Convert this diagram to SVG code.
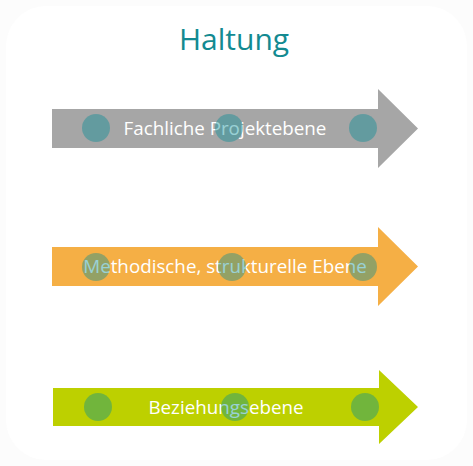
<svg xmlns="http://www.w3.org/2000/svg" width="473" height="466" viewBox="0 0 473 466">
<style>
.lbl{font-family:"Open Sans","Noto Sans",sans-serif;font-size:18.8px;fill:#ffffff;text-anchor:middle}
.title{font-family:"Open Sans","Noto Sans",sans-serif;font-size:30px;fill:#138a91;text-anchor:middle}
.dot{fill:#008c96;fill-opacity:0.4}
</style>
<rect x="0" y="0" width="473" height="466" fill="#fcfcfc"/>
<rect x="6" y="6" width="461" height="454" rx="40" fill="#ffffff"/>
<g id="title"><text class="title" x="234" y="50">Haltung</text></g>
<g id="connectors"></g>
<g id="arrow-fachlich">
<polygon points="52,109 378,109 378,89 418,128.5 378,168 378,148 52,148" fill="#a6a6a6"/>
<text class="lbl" x="225" y="135">Fachliche Projektebene</text>
<circle class="dot" cx="96" cy="128" r="14"/>
<circle class="dot" cx="229" cy="128" r="14"/>
<circle class="dot" cx="363" cy="128" r="14"/>
</g>
<g id="arrow-methodisch">
<polygon points="52,247 378,247 378,227 418,266.5 378,306 378,286 52,286" fill="#f5af45"/>
<text class="lbl" x="225" y="273">Methodische, strukturelle Ebene</text>
<circle class="dot" cx="96" cy="267" r="14"/>
<circle class="dot" cx="232" cy="267" r="14"/>
<circle class="dot" cx="363" cy="267" r="14"/>
</g>
<g id="arrow-beziehung">
<polygon points="53,388 379,388 379,370 418,407 379,444 379,426 53,426" fill="#bdd000"/>
<text class="lbl" x="226" y="414">Beziehungsebene</text>
<circle class="dot" cx="98" cy="407" r="14"/>
<circle class="dot" cx="235" cy="407" r="14"/>
<circle class="dot" cx="365" cy="407" r="14"/>
</g>
</svg>
